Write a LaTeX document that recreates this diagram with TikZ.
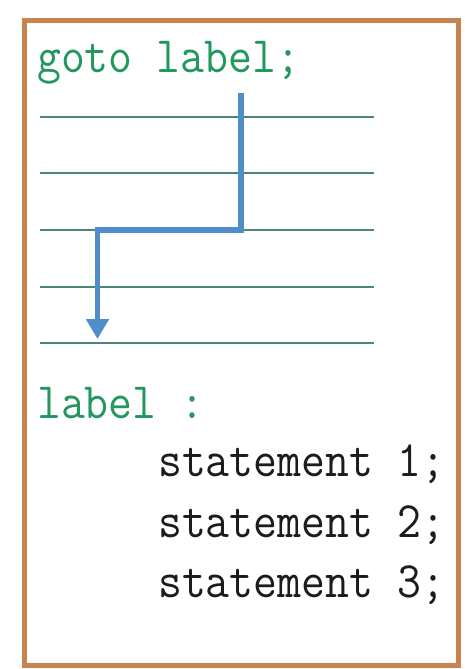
\documentclass[tikz,border=0pt]{standalone}
\usepackage{fontspec}
\usetikzlibrary{arrows.meta}
\definecolor{frameorange}{HTML}{C9834F}
\definecolor{codegreen}{HTML}{23985E}
\definecolor{ruleteal}{HTML}{4F8577}
\definecolor{flowblue}{HTML}{4F8DCB}
\definecolor{codeblack}{HTML}{1C1C1C}
\tikzset{
  code/.style={anchor=base west, inner sep=0pt, font=\fontsize{46.4}{48}\ttfamily\addfontfeatures{FakeBold=1.2}},
  greencode/.style={code, text=codegreen},
  blackcode/.style={code, text=codeblack},
  ruleline/.style={draw=ruleteal, line width=1.4pt},
  flow/.style={draw=flowblue, line width=5.5pt, -{Triangle[width=22pt,length=20pt]}},
}
\newcommand{\tallcode}[1]{\scalebox{1}[1.1]{#1}}
\begin{document}
\begin{tikzpicture}[x=1pt,y=-1pt]
  \useasboundingbox[fill=white] (0,0) rectangle (465,669);
  \draw[frameorange, line width=5pt] (24.5,20.5) rectangle (458.5,665.5);
  % code text
  \node[greencode] (gotoline) at (37,73) {\tallcode{goto label;}};
  \node[greencode] (labelline) at (37,418) {\tallcode{label :}};
  \node[blackcode] (st1) at (158,476) {\tallcode{statement 1;}};
  \node[blackcode] (st2) at (158,537) {\tallcode{statement 2;}};
  \node[blackcode] (st3) at (158,597) {\tallcode{statement 3;}};
  % ruled lines
  \foreach \yy [count=\i] in {117,173,230,287,343}{
    \coordinate (l\i a) at (40,\yy);
    \coordinate (l\i b) at (374,\yy);
    \draw[ruleline] (l\i a) -- (l\i b);
  }
  % jump arrow
  \coordinate (jumpstart) at (241,93);
  \coordinate (jumpend) at (97.5,339);
  \draw[flow] (jumpstart) |- (jumpend |- l3a) -- (jumpend);
\end{tikzpicture}
\end{document}
